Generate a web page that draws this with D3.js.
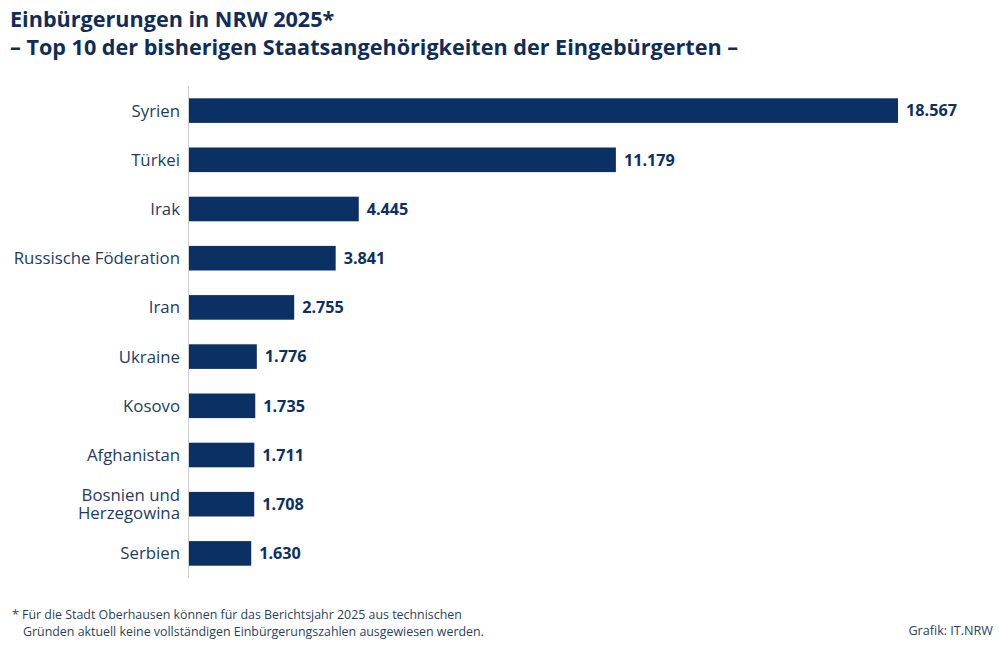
<!DOCTYPE html>
<html>
<head>
<meta charset="utf-8">
<script src="https://cdn.jsdelivr.net/npm/d3@7"></script>
<style>
  body { margin: 0; background: #fff; }
  text { font-family: "Open Sans", sans-serif; }
</style>
</head>
<body>
<svg id="chart" width="999" height="653"></svg>
<script>
// Top 10 bisherige Staatsangehörigkeiten
const countries = ["Syrien", "Türkei", "Irak", "Russische Föderation", "Iran",
                   "Ukraine", "Kosovo", "Afghanistan", "Bosnien und Herzegowina", "Serbien"];
const values    = [18567, 11179, 4445, 3841, 2755, 1776, 1735, 1711, 1708, 1630];
// label lines for categories (wrapped names)
const labelLines = {"Bosnien und Herzegowina": ["Bosnien und", "Herzegowina"]};

const titleLines = ["Einbürgerungen in NRW 2025*",
                    "– Top 10 der bisherigen Staatsangehörigkeiten der Eingebürgerten –"];
const footLines  = ["* Für die Stadt Oberhausen können für das Berichtsjahr 2025 aus technischen",
                    "Gründen aktuell keine vollständigen Einbürgerungszahlen ausgewiesen werden."];
const source = "Grafik: IT.NRW";

const navy = "#0b3063";
const textBlue = "#1d3b68";

const svg = d3.select("#chart");

// scales
const x = d3.scaleLinear().domain([0, 18567]).range([189, 898]);
const y = d3.scaleBand().domain(countries).range([86, 578])
            .paddingInner(0.5).paddingOuter(0.25);

// title
svg.selectAll(".title").data(titleLines).enter()
   .append("text")
   .attr("class", "title")
   .attr("x", 10)
   .attr("y", (d, i) => 27 + i * 28)
   .attr("font-size", 21.6)
   .attr("font-weight", 700)
   .attr("fill", "#0f2d58")
   .text(d => d);

// bars
let data = countries.map((c, i) => ({name: c, value: values[i]}));

svg.selectAll(".bar").data(data).enter()
   .append("rect")
   .attr("class", "bar")
   .attr("x", x(0))
   .attr("y", d => y(d.name))
   .attr("width", d => x(d.value) - x(0))
   .attr("height", y.bandwidth())
   .attr("fill", navy);

// axis line
svg.append("line")
   .attr("x1", x(0) - 0.5).attr("x2", x(0) - 0.5)
   .attr("y1", 86).attr("y2", 578)
   .attr("stroke", "#cfcfcf")
   .attr("stroke-width", 1);

// value labels, german number format
const fmt = d3.formatLocale({decimal: ",", thousands: ".", grouping: [3], currency: ["", "€"]}).format(",d");

svg.selectAll(".val").data(data).enter()
   .append("text")
   .attr("class", "val")
   .attr("x", d => x(d.value) + 8)
   .attr("y", d => y(d.name) + y.bandwidth() / 2)
   .attr("dy", "0.36em")
   .attr("font-size", 16.2)
   .attr("font-weight", 700)
   .attr("fill", navy)
   .text(d => fmt(d.value));

// category labels
let cats = svg.selectAll(".cat").data(data).enter()
   .append("text")
   .attr("class", "cat")
   .attr("text-anchor", "end")
   .attr("font-size", 16.8)
   .attr("fill", textBlue);

cats.each(function(d) {
  let lines = labelLines[d.name] || [d.name];
  let cy = y(d.name) + y.bandwidth() / 2;
  let lh = 18.5;
  d3.select(this).selectAll("tspan").data(lines).enter()
    .append("tspan")
    .attr("x", 180)
    .attr("y", (l, i) => cy + (i - (lines.length - 1) / 2) * lh)
    .attr("dy", "0.36em")
    .text(l => l);
});

// footnote
svg.selectAll(".foot").data(footLines).enter()
   .append("text")
   .attr("class", "foot")
   .attr("x", (d, i) => i === 0 ? 12 : 23)
   .attr("y", (d, i) => 619 + i * 17)
   .attr("font-size", 12.4)
   .attr("fill", "#2a3f5f")
   .text(d => d);

svg.append("text")
   .attr("x", 993)
   .attr("y", 635)
   .attr("text-anchor", "end")
   .attr("font-size", 12.6)
   .attr("fill", "#2a3f5f")
   .text(source);
</script>
</body>
</html>
